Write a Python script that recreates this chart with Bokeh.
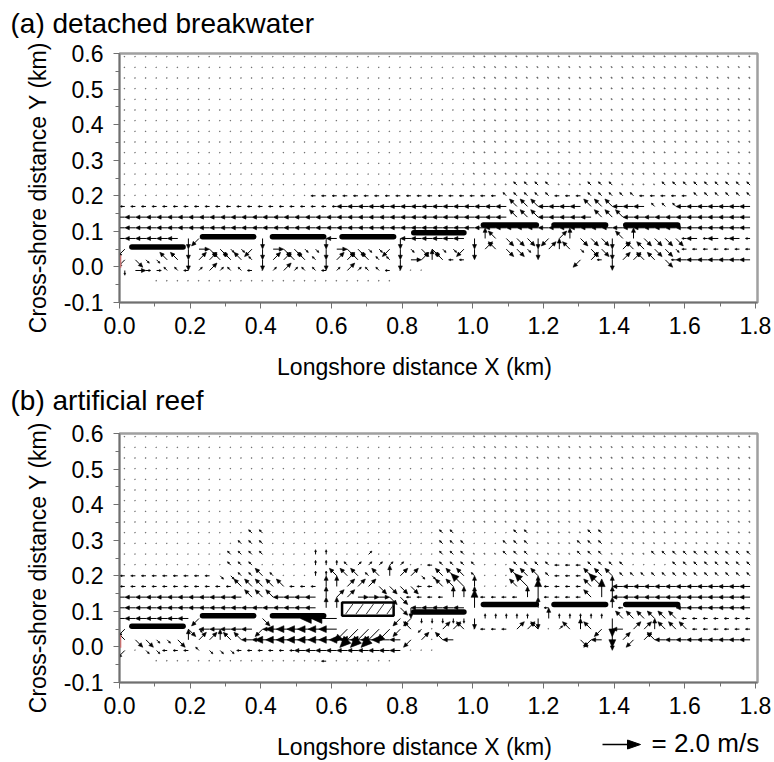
import math
from bokeh.plotting import figure
from bokeh.layouts import column, row
from bokeh.models import FixedTicker, PrintfTickFormatter, Range1d
from bokeh.core.properties import value
from bokeh.embed import file_html
from bokeh.resources import INLINE

FONT = "Liberation Sans"

# ---------------- data ----------------
X_TICKS = [0.0, 0.2, 0.4, 0.6, 0.8, 1.0, 1.2, 1.4, 1.6, 1.8]
X_MINOR = [0.1, 0.3, 0.5, 0.7, 0.9, 1.1, 1.3, 1.5, 1.7]
Y_TICKS = [-0.1, 0.0, 0.1, 0.2, 0.3, 0.4, 0.5, 0.6]
Y_MINOR = [-0.05, 0.05, 0.15, 0.25, 0.35, 0.45, 0.55]

GRID_X0 = 0.015   # first computational column (km)
GRID_DX = 0.03    # column spacing (km)
Y_ROWS = [0.59, 0.56, 0.53, 0.50, 0.47, 0.44, 0.41, 0.38, 0.35, 0.32, 0.29,
          0.26, 0.23, 0.20, 0.17, 0.14, 0.11, 0.08, 0.05, 0.02, -0.01, -0.04]

# arrow code: direction + speed class
DIR_DEG = {"NW": 135, "N": 90, "NE": 45, "W": 180, "E": 0, "SW": 225, "S": 270, "SE": 315}
DIR_ORDER = ["NW", "N", "NE", "W", "E", "SW", "S", "SE"]
SPEED = {"tiny": 0.06, "faint": 0.10, "weak": 0.25, "medium": 0.55, "strong": 0.95, "vstrong": 1.35}
CLASS_CHARS = {"weak": "qweadzxc", "medium": "78946123", "strong": "QWEADZXC", "vstrong": "TYUGJBNM"}

CALM = "..........|..........|..........|...,,,,,,,|,,,,,,,,,,|,,,,,,,,,,"

A_ROWS = [CALM] * 12 + [
    "..........|..........|..........|,,,,,,,qqq|q,,,qqq,,,|,qqqqqqqqq",   # 0.23
    "..........|........aa|aaaaaaaaaa|aaaaaaqqqq|qaaaqqqqqa|aaaaqqqqqq",   # 0.20
    "aaaaaaaaaa|aaaaaaaaaa|a444444444|4444444777|4444777444|qqq4444444",   # 0.17
    "4444444444|4444444444|4444444444|4444444777|4444477744|4444444444",   # 0.14
    "4444444444|4444444444|4444444444|4444444444|4444444444|4444444444",   # 0.11
    "44444421  |   2     2|4     2444|4442873332|1983332783|333a4a4a4a",   # 0.08
    "1     2633|cc12633cc2|633cc12c33|cc129733c2|987c332977|33caaaaaaa",   # 0.05
    "13cc772997|77q29977q2|9977qq2698|7aa       |   19a2997|73a4444444",   # 0.02
    "x6ddqqae9e|qqa.e9eqqa|e9eqqa... |          |          |          ",   # -0.01
    "   .......|..........|......    |          |          |          ",   # -0.04
]

B_ROWS = [CALM] * 9 + [
    "..........|..qq......|..........|qq.....qq,|,,,,qq,,,,|,,,,,,,,,,",   # 0.32
    "..........|.qqq......|..........|qqq...qqq,|,,,qqq,,,,|,,,,,,,,,,",   # 0.29
    "..........|qqqq....ww|...e......|qqq,,,qqq,|,,,qqq,,,,|qqqqqqqqqq",   # 0.26
    "..........|qqq.....ww|wqeeeee..a|qqqq...qqq|qaaaqqqq..|..qqqqqqqq",   # 0.23
    "aaaaaaaaac|cqq7q...ww|777q7899cc|777q...777|qaaa777qqq|qqqqqqqqqq",   # 0.20
    "aaaaaaaaaa|a77777aaa8|89993333aa|77Q8...7Q8|aaaa7Q8444|4444444444",   # 0.17
    "4444444444|4477744448|9966633aaa|a888aaaa8W|aaaa7W8444|4444444444",   # 0.14
    "4444444444|4444444448|8     3244|444W     8|a     8a  |   4444444",   # 0.11
    "44444441  |   3     G|G     11xx|xxx2wwwww2|8wwwwwX777|777aaaaaaa",   # 0.08
    "1     3c44|44414AAAAA|AZBBBZ17z.|997.aaa997|.e7871X499|8777aaaaaa",   # 0.05
    "733cc38998|7744AAAAAA|AAAAAA419.|74        |   3142919|7444444444",   # 0.02
    "1.ccaaaqcc|caaaaaa444|4444444...|          |          |          ",   # -0.01
    "   .......|.........a|......    |          |          |          ",   # -0.04
]

BAR_X0 = [0.035, 0.235, 0.433, 0.630, 0.833, 1.030, 1.230, 1.433]
BAR_X1 = [0.180, 0.380, 0.578, 0.776, 0.975, 1.180, 1.376, 1.580]
A_BAR_Y = [0.056, 0.085, 0.085, 0.085, 0.096, 0.118, 0.118, 0.118]
B_BAR_Y = [0.058, 0.088, 0.088, None, 0.098, 0.119, 0.119, 0.119]
REEF = dict(left=0.630, right=0.776, bottom=0.088, top=0.125)

TITLES = ["(a) detached breakwater", "(b) artificial reef"]
X_LABEL = "Longshore distance X (km)"
Y_LABEL = "Cross-shore distance Y (km)"
LEGEND_SPEED = 2.0
LEGEND_TEXT = "= 2.0 m/s"

# ---------------- styling / geometry ----------------
KM_PER_MS = 0.0538          # drawn arrow length per 1 m/s (km)
PX_PER_KM = 353.3
W = 774
LEFT_STRIP = 60
MAIN_H = 307
TITLE_H = 38

CODE = {".": ("NW", "tiny"), ",": ("NW", "faint")}
for cls, chars in CLASS_CHARS.items():
    for d, ch in zip(DIR_ORDER, chars):
        CODE[ch] = (d, cls)


def build_arrows(rows):
    seg = dict(x0=[], y0=[], x1=[], y1=[])
    tiny = dict(x0=[], y0=[], x1=[], y1=[])
    hx, hy = [], []
    for yv, r in zip(Y_ROWS, rows):
        cells = r.replace("|", "")
        for k, ch in enumerate(cells):
            if ch == " " or ch not in CODE:
                continue
            d, cls = CODE[ch]
            a = math.radians(DIR_DEG[d])
            ux, uy = math.cos(a), math.sin(a)
            L = SPEED[cls] * KM_PER_MS
            x0 = GRID_X0 + GRID_DX * k
            y0 = yv
            x1, y1 = x0 + L * ux, y0 + L * uy
            if cls in ("tiny", "faint"):
                tiny["x0"].append(x0); tiny["y0"].append(y0)
                tiny["x1"].append(x1); tiny["y1"].append(y1)
                continue
            hl, hw = 0.42 * L, 0.19 * L
            bx, by = x1 - hl * ux, y1 - hl * uy
            seg["x0"].append(x0); seg["y0"].append(y0)
            seg["x1"].append(bx + 0.3 * hl * ux); seg["y1"].append(by + 0.3 * hl * uy)
            hx.append([x1, bx - hw * uy, bx + hw * uy])
            hy.append([y1, by + hw * ux, by - hw * ux])
    return seg, tiny, hx, hy


def blank(width, height):
    """A plain drawing strip whose data units are canvas pixels (y downwards)."""
    p = figure(width=width, height=height, x_range=Range1d(0, width), y_range=Range1d(height, 0),
               output_backend="svg", toolbar_location=None, title=None,
               min_border_left=0, min_border_right=0, min_border_top=0, min_border_bottom=0)
    p.frame_align = False
    p.axis.visible = False
    p.xgrid.grid_line_color = None
    p.ygrid.grid_line_color = None
    p.outline_line_color = None
    return p


def txt(p, x, y, s, size, align="left", angle=0.0):
    p.text(x=[x], y=[y], text=[s], text_font=value(FONT), text_font_size=value(size),
           text_align=value(align), text_baseline=value("middle"), text_color="black", angle=angle)


def make_main(rows, bar_y, reef):
    p = figure(width=W - LEFT_STRIP, height=MAIN_H,
               x_range=Range1d(0.0, 1.806), y_range=Range1d(-0.1, 0.6),
               output_backend="svg", toolbar_location=None, title=None,
               min_border_left=119 - LEFT_STRIP, min_border_right=17,
               min_border_top=15, min_border_bottom=43)
    p.frame_align = False
    p.xgrid.grid_line_color = None
    p.ygrid.grid_line_color = None
    p.outline_line_color = "#a0a0a0"
    p.outline_line_width = 2.5

    for ax, ticks, minor in ((p.xaxis, X_TICKS, X_MINOR), (p.yaxis, Y_TICKS, Y_MINOR)):
        ax.ticker = FixedTicker(ticks=ticks, minor_ticks=minor)
        ax.formatter = PrintfTickFormatter(format="%.1f")
        ax.major_label_text_font = FONT
        ax.major_label_text_font_size = "23px"
        ax.major_label_text_color = "black"
        ax.axis_line_color = "#707070"
        ax.axis_line_width = 1.5
        ax.major_tick_line_color = "#707070"
        ax.minor_tick_line_color = "#707070"
        ax.major_tick_in = 0
        ax.minor_tick_in = 0
        ax.major_tick_out = 6
        ax.minor_tick_out = 4
    p.xaxis.major_label_standoff = 8
    p.yaxis.major_label_standoff = 10

    seg, tiny, hx, hy = build_arrows(rows)
    p.segment(x0=tiny["x0"], y0=tiny["y0"], x1=tiny["x1"], y1=tiny["y1"],
              line_color="#6a6a6a", line_width=1.4)
    p.segment(x0=seg["x0"], y0=seg["y0"], x1=seg["x1"], y1=seg["y1"],
              line_color="black", line_width=1.0)
    p.patches(xs=hx, ys=hy, fill_color="black", line_color="black", line_width=0.6)

    # shoreline marker at the left edge
    p.segment(x0=[0.003], y0=[-0.002], x1=[0.003], y1=[0.033], line_color="#e07070", line_width=1.5)

    bx0 = [a for a, y in zip(BAR_X0, bar_y) if y is not None]
    bx1 = [b for b, y in zip(BAR_X1, bar_y) if y is not None]
    by = [y for y in bar_y if y is not None]
    p.segment(x0=bx0, y0=by, x1=bx1, y1=by, line_color="black", line_width=5.5, line_cap="round")

    if reef is not None:
        p.quad(left=[reef["left"]], right=[reef["right"]], bottom=[reef["bottom"]], top=[reef["top"]],
               fill_color="white", line_color="black", line_width=2.5)
        h = reef["top"] - reef["bottom"]
        w = reef["right"] - reef["left"]
        n = 5
        hx0, hy0, hx1, hy1 = [], [], [], []
        for i in range(n):
            xs = reef["left"] + w * (i + 0.35) / n
            hx0.append(xs); hy0.append(reef["bottom"] + 0.12 * h)
            hx1.append(xs + 0.55 * h); hy1.append(reef["top"] - 0.12 * h)
        p.segment(x0=hx0, y0=hy0, x1=hx1, y1=hy1, line_color="#333333", line_width=1)
    return p


def panel(title, title_y, rows, bar_y, reef, bottom_h, legend):
    t = blank(W, TITLE_H)
    txt(t, 10, title_y, title, "28px")

    yl = blank(LEFT_STRIP, MAIN_H)
    txt(yl, 37, 149, Y_LABEL, "23px", align="center", angle=math.pi / 2)

    main = make_main(rows, bar_y, reef)

    b = blank(W, bottom_h)
    txt(b, 414, 21, X_LABEL, "23px", align="center")
    if legend:
        tail, ay = 602, 19
        length = LEGEND_SPEED * KM_PER_MS * PX_PER_KM
        head_l, head_w = 13, 4.5
        b.segment(x0=[tail], y0=[ay], x1=[tail + length - head_l + 1], y1=[ay], line_color="black", line_width=1.3)
        b.patches(xs=[[tail + length, tail + length - head_l, tail + length - head_l]],
                  ys=[[ay, ay - head_w, ay + head_w]], fill_color="black", line_color="black")
        txt(b, 651, 17, LEGEND_TEXT, "26px")
    return column(t, row(yl, main), b)


pa = panel(TITLES[0], 23, A_ROWS, A_BAR_Y, None, 35, False)
pb = panel(TITLES[1], 20, B_ROWS, B_BAR_Y, REEF, 37, True)

layout = column(pa, pb)
open("out.html", "w").write(file_html(layout, INLINE))
